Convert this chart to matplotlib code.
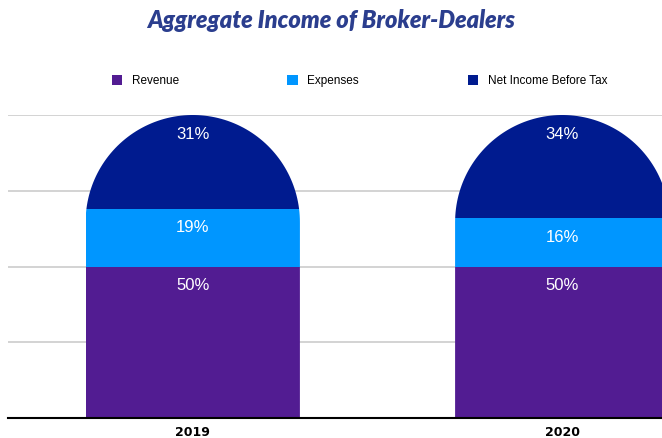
import numpy as np
import matplotlib
matplotlib.use("Agg")
import matplotlib.pyplot as plt
from matplotlib.path import Path
from matplotlib.patches import PathPatch, Patch

years = ["2019", "2020"]
revenue = [50, 50]
expenses = [19, 16]
net_income = [31, 34]
series_names = ["Revenue", "Expenses", "Net Income Before Tax"]
colors = ["#521c92", "#0096ff", "#001b8f"]

fig = plt.figure(figsize=(6.62, 4.38), dpi=100)
ax = fig.add_axes([8/662, 20/438, 739/662, 303/438])
ax.set_xlim(-0.5, 1.5)
ax.set_ylim(0, 100)

x = np.arange(len(years))
width = 0.58
layers = [revenue, expenses, net_income]
bottoms = np.zeros(len(years))
bars = []
for vals, col in zip(layers, colors):
    b = ax.bar(x, vals, width, bottom=bottoms, color=col, zorder=2, linewidth=0)
    bars.append((b, bottoms.copy(), np.array(vals)))
    bottoms += np.array(vals)

# rounded dome top: radius = half bar width in pixels
fig.canvas.draw()
px_per_x = ax.transData.transform((1, 0))[0] - ax.transData.transform((0, 0))[0]
px_per_y = ax.transData.transform((0, 1))[1] - ax.transData.transform((0, 0))[1]
r_px = width / 2 * px_per_x
ry = r_px / px_per_y
rx = width / 2
for i, xc in enumerate(x):
    top = bottoms[i]
    theta = np.linspace(0, np.pi, 100)
    verts = [(xc - rx, 0), (xc + rx, 0), (xc + rx, top - ry)]
    verts += [(xc + rx * np.cos(t), top - ry + ry * np.sin(t)) for t in theta]
    verts += [(xc - rx, 0)]
    codes = [Path.MOVETO] + [Path.LINETO] * (len(verts) - 2) + [Path.CLOSEPOLY]
    clip = PathPatch(Path(verts, codes), transform=ax.transData, facecolor="none", edgecolor="none")
    ax.add_patch(clip)
    for b, bot, vals in bars:
        b[i].set_clip_path(clip)

# labels near top of each segment
lab_font = dict(color="white", fontsize=12, family="Liberation Sans", ha="center", va="top", zorder=3)
for b, bot, vals in bars:
    for i, xc in enumerate(x):
        ax.text(xc, bot[i] + vals[i] - 3.8, f"{vals[i]}%", **lab_font)

ax.set_yticks([25, 50, 75, 100])
ax.yaxis.grid(True, color="#cccccc", linewidth=1.2, zorder=0)
ax.set_axisbelow(True)
ax.tick_params(axis="y", left=False, labelleft=False)
ax.set_xticks(x)
ax.set_xticklabels(years, fontsize=9, fontweight="bold", family="Liberation Sans Narrow")
ax.tick_params(axis="x", length=0, pad=6)
for s in ["top", "right", "left"]:
    ax.spines[s].set_visible(False)
ax.spines["bottom"].set_color("black")
ax.spines["bottom"].set_linewidth(1.5)

handles = [Patch(facecolor=c, edgecolor="none") for c in colors]
fig.legend(handles, series_names, loc="center left", bbox_to_anchor=(101/662, 1 - 81/438),
           ncol=3, frameon=False, handlelength=0.9, handleheight=0.9, handletextpad=0.8,
           columnspacing=9.2, prop={"family": "Liberation Sans", "size": 8.5})

fig.text(331/662, 1 - 20/438, "Aggregate Income of Broker-Dealers", ha="center", va="center",
         fontsize=17, fontweight="heavy", style="italic", family="Lato", color="#2b3e8e")

fig.savefig("out.png", dpi=100)
